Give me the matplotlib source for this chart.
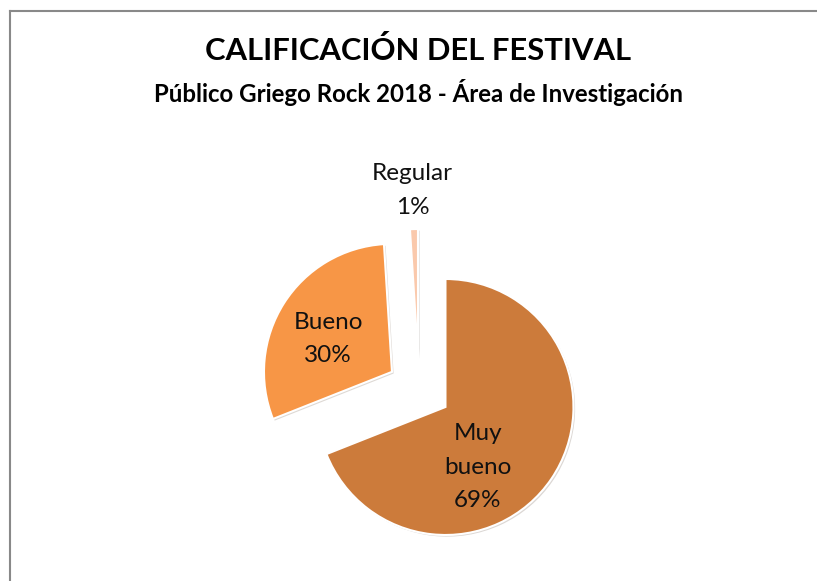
import matplotlib.pyplot as plt
import matplotlib.patheffects as pe
from matplotlib.lines import Line2D

# data
categorias = ['Muy\nbueno', 'Bueno', 'Regular']
porcentajes = [69, 30, 1]
colores = ['#CC7B3B', '#F79646', '#FAC9AC']

plt.rcParams['font.family'] = ['Lato', 'DejaVu Sans']

W, H = 817, 581
fig = plt.figure(figsize=(W / 100, H / 100), dpi=100)
ax = fig.add_axes([0, 0, 1, 1])

wedges, texts = ax.pie(porcentajes, colors=colores, startangle=90, counterclock=False,
                       explode=[0.25, 0.25, 0.25], radius=1,
                       wedgeprops=dict(edgecolor='white', linewidth=1.5))
for w in wedges:
    w.set_path_effects([pe.SimplePatchShadow(offset=(1.2, -1.2), alpha=0.18), pe.Normal()])

# axes in pixel-like units: 128 px per unit radius, pie centre at (419, 389)
px = 128.0
cx, cy = 419, H - 389
ax.set_aspect('auto')
ax.set_xlim(-cx / px, (W - cx) / px)
ax.set_ylim(-cy / px, (H - cy) / px)
ax.axis('off')

# label positions (fit by eye, like the original "best fit")
label_pos = [(0.46, -0.61), (-0.71, 0.39), (-0.05, 1.55)]
for cat, val, pos in zip(categorias, porcentajes, label_pos):
    ax.text(pos[0], pos[1], f'{cat}\n{val}%', ha='center', va='center',
            fontsize=17.5, color='#111111', linespacing=1.72)

fig.text(0.512, 1 - 51 / H, 'CALIFICACIÓN DEL FESTIVAL', ha='center', va='center',
         fontsize=22.3, fontweight='bold', color='black')
fig.text(0.512, 1 - 93 / H, 'Público Griego Rock 2018 - Área de Investigación', ha='center',
         va='center', fontsize=17.3, fontweight='bold', color='black')

# chart border (left and top edges only are visible)
fig.add_artist(Line2D([10 / W, 10 / W], [0, 1 - 11 / H], transform=fig.transFigure,
                      color='#898989', linewidth=1.5))
fig.add_artist(Line2D([10 / W, 1], [1 - 11 / H, 1 - 11 / H], transform=fig.transFigure,
                      color='#898989', linewidth=1.5))

fig.savefig('out.png', dpi=100, facecolor='white')
